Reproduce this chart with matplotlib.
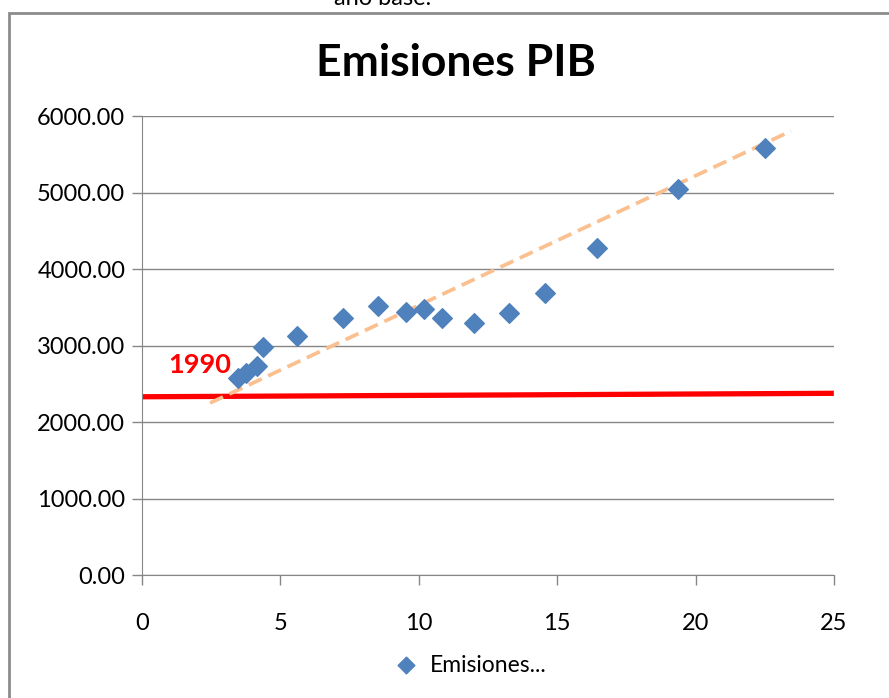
import matplotlib.pyplot as plt
from matplotlib.patches import Rectangle

plt.rcParams['font.family'] = ['Lato', 'DejaVu Sans']

# data
pib = [3.47, 3.76, 4.15, 4.37, 5.60, 7.26, 8.53, 9.54, 10.19, 10.84, 11.99, 13.26, 14.56, 16.44, 19.36, 22.51]
emisiones = [2575, 2641, 2732, 2980, 3124, 3359, 3516, 3438, 3477, 3359, 3294, 3425, 3686, 4275, 5046, 5582]
trend_x = [2.46, 23.45]
trend_y = [2248, 5804]
base_x = [0, 24.9]
base_y = [2330, 2375]
yticks = [0, 1000, 2000, 3000, 4000, 5000, 6000]
xticks = [0, 5, 10, 15, 20, 25]

fig = plt.figure(figsize=(8.89, 6.98), dpi=100)
ax = fig.add_axes([0.1597, 0.1762, 0.7784, 0.6576])

ax.plot(trend_x, trend_y, color='#FAC090', lw=2.7, dashes=(3.8, 1.9), zorder=3)
ax.plot(base_x, base_y, color='#FF0000', lw=3.8, zorder=2)
ax.scatter(pib, emisiones, marker='D', s=100, color='#4F81BD', zorder=4, label='Emisiones...')
ax.text(0.95, 2740, '1990', color='#FF0000', fontsize=19.5, fontweight='bold', ha='left', va='center')

ax.set_xlim(0, 25)
ax.set_ylim(0, 6000)
ax.set_xticks(xticks)
ax.set_yticks(yticks)
ax.set_yticklabels([f'{v:.2f}' for v in yticks])
ax.tick_params(axis='both', labelsize=17, color='#868686', length=7, width=1)
ax.tick_params(axis='y', pad=5)
ax.tick_params(axis='x', pad=20)
ax.grid(axis='y', color='#868686', lw=1)
ax.set_axisbelow(True)
for s in ['top', 'right']:
    ax.spines[s].set_visible(False)
for s in ['left', 'bottom']:
    ax.spines[s].set_color('#868686')

fig.text(456 / 889, 1 - 63 / 698, 'Emisiones PIB', fontsize=32, fontweight='bold', ha='center', va='center')
fig.legend(loc='center', bbox_to_anchor=(465 / 889, 1 - 665 / 698), frameon=False, fontsize=16.5,
           handletextpad=0.05, markerscale=0.85)

# outer chart border and cut-off text above
fig.patches.append(Rectangle((9 / 889, -0.1), 1.2, 0.1 + 1 - 13 / 698, transform=fig.transFigure,
                             fill=False, edgecolor='#8C8C8C', lw=2))
fig.text(0.43, 1 - 5 / 698, 'año base.', fontsize=17, ha='center', va='baseline')

fig.savefig('out.png', dpi=100)
